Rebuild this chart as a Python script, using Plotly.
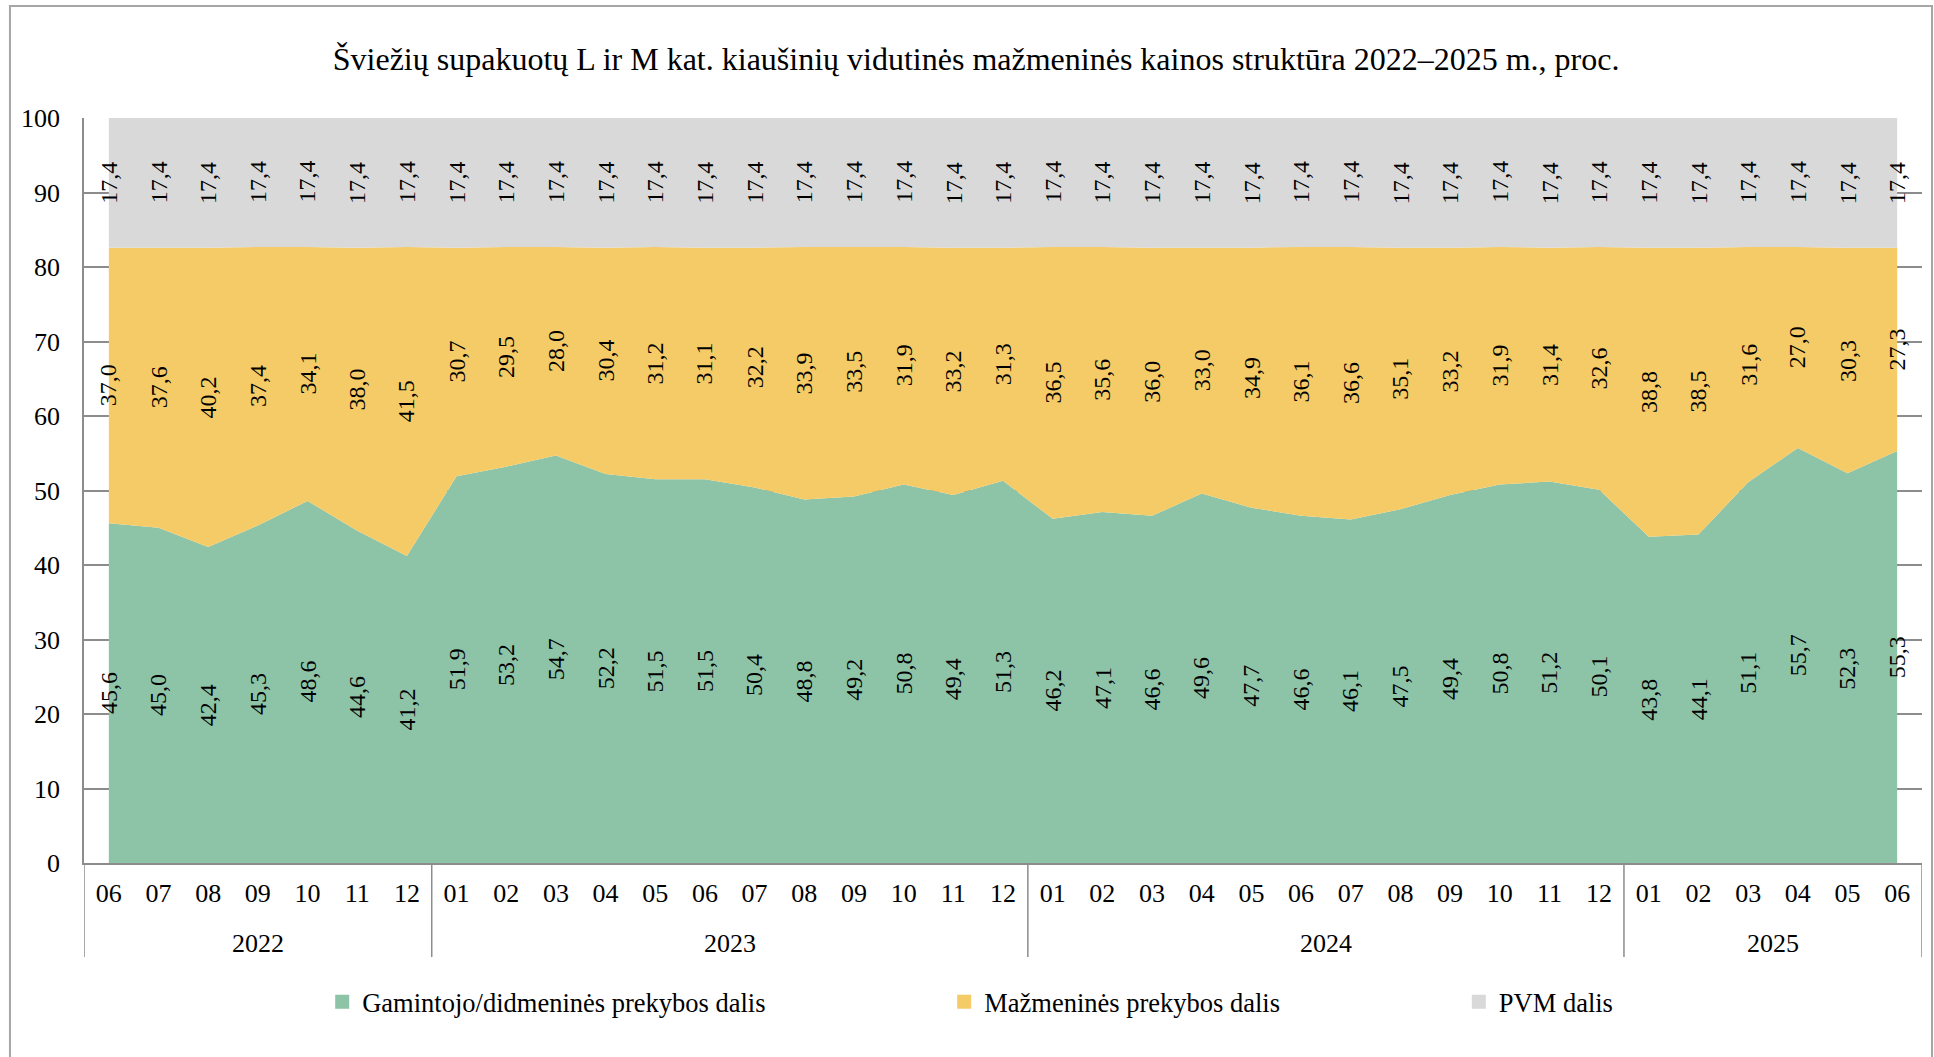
import plotly.graph_objects as go

# Kategorijos: metai ir mėnesiai (2022-06 ... 2025-06)
years = ["2022"] * 7 + ["2023"] * 12 + ["2024"] * 12 + ["2025"] * 6
months = ["06", "07", "08", "09", "10", "11", "12",
          "01", "02", "03", "04", "05", "06", "07", "08", "09", "10", "11", "12",
          "01", "02", "03", "04", "05", "06", "07", "08", "09", "10", "11", "12",
          "01", "02", "03", "04", "05", "06"]

# Gamintojo/didmeninės prekybos dalis
producer = [45.6, 45.0, 42.4, 45.3, 48.6, 44.6, 41.2,
            51.9, 53.2, 54.7, 52.2, 51.5, 51.5, 50.4, 48.8, 49.2, 50.8, 49.4, 51.3,
            46.2, 47.1, 46.6, 49.6, 47.7, 46.6, 46.1, 47.5, 49.4, 50.8, 51.2, 50.1,
            43.8, 44.1, 51.1, 55.7, 52.3, 55.3]

# Mažmeninės prekybos dalis
retail = [37.0, 37.6, 40.2, 37.4, 34.1, 38.0, 41.5,
          30.7, 29.5, 28.0, 30.4, 31.2, 31.1, 32.2, 33.9, 33.5, 31.9, 33.2, 31.3,
          36.5, 35.6, 36.0, 33.0, 34.9, 36.1, 36.6, 35.1, 33.2, 31.9, 31.4, 32.6,
          38.8, 38.5, 31.6, 27.0, 30.3, 27.3]

# PVM dalis
vat = [17.4, 17.4, 17.4, 17.4, 17.4, 17.4, 17.4,
       17.4, 17.4, 17.4, 17.4, 17.4, 17.4, 17.4, 17.4, 17.4, 17.4, 17.4, 17.4,
       17.4, 17.4, 17.4, 17.4, 17.4, 17.4, 17.4, 17.4, 17.4, 17.4, 17.4, 17.4,
       17.4, 17.4, 17.4, 17.4, 17.4, 17.4]

FONT = "Liberation Serif, Times New Roman, serif"
GRID = "#8C8C8C"

series = [
    ("Gamintojo/didmeninės prekybos dalis", producer, "#8DC3A7", "legend"),
    ("Mažmeninės prekybos dalis", retail, "#F4CB66", "legend2"),
    ("PVM dalis", vat, "#D9D9D9", "legend3"),
]

# unikalūs kategorijų raktai, ašyje rodomi tik mėnesiai
keys = [f"{y}-{m}" for y, m in zip(years, months)]
n = len(keys)


def fmt(v):
    return f"{v:.1f}".replace(".", ",")


fig = go.Figure()

# sukrautos sritys
for name, vals, color, leg in series:
    fig.add_trace(go.Scatter(
        x=keys, y=vals, name=name, stackgroup="kaina", mode="none",
        fillcolor=color, line=dict(width=0),
        showlegend=False, hoverinfo="skip"))

# legendos žymekliai
for name, vals, color, leg in series:
    fig.add_trace(go.Scatter(
        x=keys, y=[None] * n, name=name, mode="markers",
        marker=dict(symbol="square", size=14, color=color),
        legend=leg, showlegend=True, hoverinfo="skip"))

# reikšmių etiketės sričių viduryje, pasuktos 90°
annotations = []
base = [0.0] * n
for name, vals, color, leg in series:
    for i, v in enumerate(vals):
        annotations.append(dict(
            x=keys[i], y=base[i] + v / 2, xref="x", yref="y",
            text=fmt(v), textangle=-90, showarrow=False,
            xanchor="center", yanchor="middle",
            font=dict(family=FONT, size=24, color="black")))
        base[i] += v

# metų etiketės ir skiriamosios linijos po ašimi
shapes = []
start = 0
groups = []
for i in range(1, n + 1):
    if i == n or years[i] != years[start]:
        groups.append((years[start], start, i - 1))
        start = i
div_bottom = (863 - 957) / 745
for yr, a, b in groups:
    annotations.append(dict(
        x=(a + b) / 2, y=(863 - 943) / 745, xref="x", yref="paper",
        text=yr, showarrow=False, xanchor="center", yanchor="middle",
        font=dict(family=FONT, size=26, color="black")))
    shapes.append(dict(type="line", xref="x", yref="paper",
                       x0=a - 0.5, x1=a - 0.5, y0=0, y1=div_bottom,
                       line=dict(color=GRID, width=1.5)))
shapes.append(dict(type="line", xref="x", yref="paper",
                   x0=n - 0.5, x1=n - 0.5, y0=0, y1=div_bottom,
                   line=dict(color=GRID, width=1.5)))

# rėmelis aplink diagramą
shapes.append(dict(type="rect", xref="paper", yref="paper",
                   x0=(10 - 84) / 1837, x1=(1931 - 84) / 1837,
                   y0=(863 - 1075) / 745, y1=(863 - 6) / 745,
                   line=dict(color="#A6A6A6", width=2), layer="below"))

leg_y = -0.1866
fig.update_layout(
    width=1934, height=1057,
    margin=dict(l=84, r=12, t=118, b=194),
    paper_bgcolor="white", plot_bgcolor="white",
    hovermode=False,
    font=dict(family=FONT, size=26, color="black"),
    title=dict(
        text="Šviežių supakuotų L ir M kat. kiaušinių vidutinės mažmeninės kainos struktūra 2022–2025 m., proc.",
        x=0.5047, xanchor="center", y=1 - 59 / 1057, yanchor="middle",
        font=dict(family=FONT, size=32, color="black")),
    legend=dict(x=0.1296, y=leg_y, xanchor="left", yanchor="middle", font=dict(size=26.5)),
    legend2=dict(x=0.468, y=leg_y, xanchor="left", yanchor="middle", font=dict(size=26.5)),
    legend3=dict(x=0.748, y=leg_y, xanchor="left", yanchor="middle", font=dict(size=26.5)),
    annotations=annotations,
    shapes=shapes,
)

fig.update_xaxes(
    type="category", range=[-0.5, n - 0.5],
    tickmode="array", tickvals=keys, ticktext=months,
    showline=True, linecolor=GRID, linewidth=1.5,
    showgrid=False, ticks="", ticklabelstandoff=6,
    tickfont=dict(family=FONT, size=26, color="black"))

fig.update_yaxes(
    range=[0, 100], dtick=10,
    showline=True, linecolor=GRID, linewidth=1.5,
    showgrid=True, gridcolor=GRID, gridwidth=1.5,
    zeroline=False, ticks="", ticklabelstandoff=17,
    tickfont=dict(family=FONT, size=26, color="black"))

fig.write_html("out.html", config={"displayModeBar": False},
               post_script="document.body.style.margin='0';")
